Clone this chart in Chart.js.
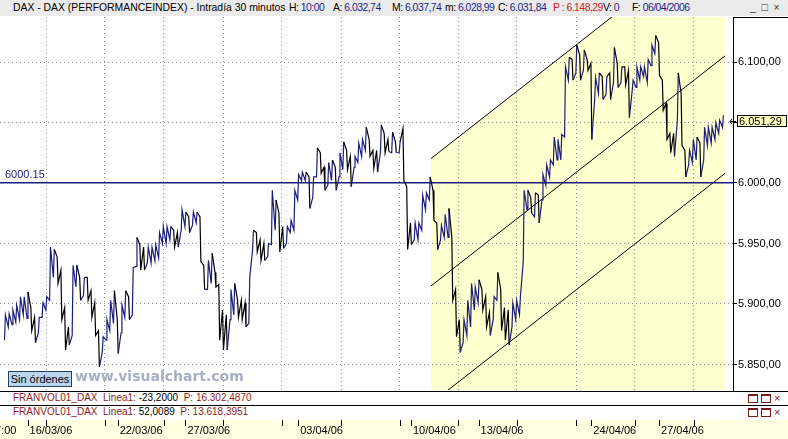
<!DOCTYPE html>
<html>
<head>
<meta charset="utf-8">
<title>DAX - Intradía 30 minutos</title>
<script src="https://cdn.jsdelivr.net/npm/chart.js@4.4.1/dist/chart.umd.min.js"></script>
<style>
  body { margin: 0; background: #fff; }
  #wrap { position: relative; width: 788px; height: 439px; overflow: hidden; font-family: "Liberation Sans", Arial, sans-serif; font-size: 11px; }
  #axisRow { position: absolute; left: 0; top: 420px; width: 788px; height: 19px; background: #ffffe1; }
  #dax { position: absolute; left: 0; top: 0; }
  #head { position: absolute; left: 0; top: 0; width: 788px; height: 16px; background: #ebebeb; white-space: nowrap; font-size: 10.4px; }
  #head span { position: absolute; top: 2px; }
  #head span span { position: static; }
  #head .n { letter-spacing: -0.5px; }
  .v { color: #1e1e8a; }
  .r { color: #d01c1c; }
  .panel { position: absolute; left: 0; width: 788px; height: 13px; background: #fff; border-top: 1px solid #000; white-space: nowrap; }
  .panel .txt { position: absolute; left: 13px; top: 0; color: #8e1b1b; font-size: 10px; }
  .panel .txt b { font-weight: normal; color: #000; }
  .btns { position: absolute; left: 748px; top: 0; color: #7a1a1a; font-size: 11px; }
  .btns i { display: inline-block; width: 8px; height: 6px; border: 1px solid #7a1a1a; border-top-width: 2px; margin-right: 3px; vertical-align: -1px; }
  #orders { position: absolute; left: 8px; top: 371px; width: 62px; height: 14px; border: 1px solid #23405e; background: #bcd5ee; line-height: 14px; text-align: center; }
  #mark { position: absolute; left: 75px; top: 368px; font: bold 14px "DejaVu Sans", Verdana, sans-serif; color: #a9aec4; }
</style>
</head>
<body>
<div id="wrap">
  <div id="axisRow"></div>
  <canvas id="dax" width="788" height="439"></canvas>
  <div id="head">
    <span style="left:13px">DAX - DAX (PERFORMANCEINDEX) - Intradía 30 minutos</span>
    <span class="n" style="left:289px">H: <span class="v">10:00</span></span>
    <span class="n" style="left:333px">A: <span class="v">6.032,74</span></span>
    <span class="n" style="left:392px">M: <span class="v">6.037,74</span></span>
    <span class="n" style="left:445px">m: <span class="v">6.028,99</span></span>
    <span class="n" style="left:498px">C: <span class="v">6.031,84</span></span>
    <span class="n r" style="left:553px">P : 6.148,29</span>
    <span class="n" style="left:603px">V: <span class="v">0</span></span>
    <span class="n" style="left:632px">F: <span class="v">06/04/2006</span></span>
    <span style="left:750px;color:#333">_&nbsp;&nbsp;□&nbsp;&nbsp;×</span>
  </div>
  <div id="orders">Sin órdenes</div>
  <div id="mark">www.visualchart.com</div>
  <div class="panel" style="top:391px">
    <span class="txt">FRANVOL01_DAX&nbsp; Linea1: <b>-23,2000</b>&nbsp; P: 16.302,4870</span>
    <span class="btns"><i></i><i></i>×</span>
  </div>
  <div class="panel" style="top:405px">
    <span class="txt">FRANVOL01_DAX&nbsp; Linea1: <b>52,0089</b>&nbsp; P: 13.618,3951</span>
    <span class="btns"><i></i><i></i>×</span>
  </div>
</div>
<script>
// 30 min bars grouped in columns, 6 columns per trading day (day 0 = 15/03/06)
var barsPerDay = 6;

var barHigh = [
  5891, 5892, 5895, 5899, 5906, 5906, 5910, 5897, 5889, 5889, 5901, 5906,
  5947, 5945, 5939, 5928, 5897, 5881, 5932, 5932, 5922, 5922, 5922, 5911,
  5901, 5878, 5873, 5887, 5903, 5911, 5887, 5899, 5911, 5906, 5930, 5955,
  5949, 5947, 5947, 5947, 5949, 5959, 5964, 5964, 5964, 5961, 5959, 5978,
  5976, 5972, 5976, 5976, 5972, 5932, 5936, 5942, 5926, 5916, 5895, 5891,
  5912, 5917, 5903, 5903, 5901, 5922, 5961, 5959, 5953, 5950, 5950, 5994,
  5986, 5975, 5964, 5964, 5969, 5994, 6007, 6009, 6009, 6005, 6005, 6029,
  6025, 6013, 6017, 6019, 6013, 6025, 6034, 6027, 6022, 6022, 6033, 6036,
  6046, 6036, 6027, 6027, 6048, 6041, 6036, 6042, 6034, 6034, 6045, 5997,
  5967, 5967, 5967, 5990, 5992, 6005, 5994, 5967, 5965, 5974, 5979, 5955,
  5912, 5887, 5887, 5903, 5917, 5914, 5920, 5912, 5906, 5893, 5906, 5926,
  5912, 5897, 5895, 5901, 5903, 5906, 5994, 5994, 5988, 5992, 5990, 6007,
  6015, 6019, 6038, 6036, 6040, 6096, 6104, 6102, 6114, 6106, 6110, 6102,
  6099, 6087, 6091, 6088, 6088, 6091, 6112, 6099, 6096, 6096, 6093, 6085,
  6096, 6096, 6096, 6102, 6114, 6122, 6116, 6085, 6066, 6041, 6041, 6091,
  6074, 6027, 6027, 6036, 6038, 6033, 6046, 6046, 6046, 6050, 6052, 6056
];

var barLow = [
  5870, 5881, 5883, 5885, 5887, 5891, 5888, 5878, 5868, 5876, 5889, 5895,
  5903, 5922, 5917, 5887, 5862, 5866, 5874, 5914, 5903, 5907, 5903, 5889,
  5874, 5848, 5860, 5870, 5878, 5884, 5859, 5876, 5889, 5887, 5891, 5931,
  5928, 5928, 5934, 5934, 5936, 5938, 5950, 5950, 5953, 5947, 5947, 5961,
  5964, 5959, 5965, 5967, 5935, 5912, 5912, 5917, 5914, 5870, 5862, 5862,
  5887, 5891, 5889, 5887, 5881, 5884, 5945, 5943, 5936, 5936, 5939, 5949,
  5961, 5943, 5946, 5950, 5959, 5961, 5986, 6002, 6002, 5979, 5988, 6005,
  6008, 5994, 5998, 6002, 5994, 6005, 6011, 6011, 5997, 6013, 6017, 6022,
  6027, 6022, 6012, 6009, 6025, 6025, 6026, 6025, 6025, 6025, 6002, 5945,
  5949, 5953, 5953, 5961, 5978, 5986, 5969, 5945, 5953, 5955, 5955, 5903,
  5873, 5860, 5868, 5874, 5881, 5895, 5901, 5895, 5881, 5874, 5887, 5903,
  5878, 5870, 5866, 5881, 5887, 5891, 5935, 5978, 5975, 5972, 5967, 5986,
  5998, 6005, 6015, 6019, 6019, 6038, 6085, 6085, 6091, 6085, 6093, 6093,
  6036, 6069, 6074, 6069, 6073, 6069, 6083, 6079, 6083, 6081, 6054, 6077,
  6079, 6085, 6088, 6083, 6097, 6107, 6089, 6060, 6036, 6025, 6022, 6052,
  6031, 6005, 6015, 6017, 6019, 6005, 6019, 6031, 6033, 6036, 6041, 6046
];

// reference level and last price
var levelPrice = 6000.15;
var lastPrice = 6051.29;

// regression channel (start / end, in trading days)
var chanDays = [18.89, 31.93];
var chanUpper = [6020.2, 6210.5];
var chanMiddle = [5914.9, 6105.1];
var chanLower = [5817.8, 6008.0];

// axes
var xMin = -0.22, xMax = 32.28;
var yMin = 5828.9, yMax = 6137.2;
var yTicks = [5850, 5900, 5950, 6000, 6050, 6100];
var gridDays = [1.82, 4.43, 7.05, 9.67, 12.28, 14.9, 17.5, 20.1, 22.7, 25.32, 27.93, 30.55];
var dateDays = [-0.8, 1, 5, 8, 13, 18, 21, 26, 29];
var dateLabels = ['17:00', '16/03/06', '22/03/06', '27/03/06', '03/04/06', '10/04/06', '13/04/06', '24/04/06', '27/04/06'];

var upColor = '#1c1c7c';
var downColor = '#000000';
var gridColor = '#8a8a8a';

function fmt(v) {
  var parts = v.toFixed(2).split('.');
  return parts[0].replace(/\B(?=(\d{3})+(?!\d))/g, '.') + ',' + parts[1];
}

// each column rises (low -> high) or falls (high -> low) compared with the previous one
var colUp = barHigh.map(function(h, i) {
  if (i === 0) return true;
  return (h + barLow[i]) >= (barHigh[i - 1] + barLow[i - 1]);
});

// zig-zag path through every column's range
var tracePoints = [];
barHigh.forEach(function(h, i) {
  var x0 = i / barsPerDay - 0.02, x1 = i / barsPerDay + 0.02;
  if (colUp[i]) {
    tracePoints.push({ x: x0, y: barLow[i] }, { x: x1, y: h });
  } else {
    tracePoints.push({ x: x0, y: h }, { x: x1, y: barLow[i] });
  }
});

// extra drawing: bottom tick marks, level label, last price box
var overlay = {
  id: 'overlay',
  afterDraw: function(chart) {
    var ctx = chart.ctx, x = chart.scales.x, y = chart.scales.y, area = chart.chartArea;
    ctx.save();
    ctx.strokeStyle = '#000';
    ctx.lineWidth = 1;
    gridDays.concat(dateDays).forEach(function(d) {
      var px = Math.round(x.getPixelForValue(d)) + 0.5;
      ctx.beginPath();
      ctx.moveTo(px, 420);
      ctx.lineTo(px, 426);
      ctx.stroke();
    });

    // axis panel top edge
    ctx.beginPath();
    ctx.moveTo(area.right, area.top + 0.5);
    ctx.lineTo(chart.width, area.top + 0.5);
    ctx.stroke();

    ctx.font = '11px "Liberation Sans", Arial, sans-serif';
    ctx.fillStyle = upColor;
    ctx.textBaseline = 'alphabetic';
    ctx.textAlign = 'left';
    ctx.fillText(String(levelPrice), area.left + 5, y.getPixelForValue(levelPrice) - 5);

    var py = Math.round(y.getPixelForValue(lastPrice));
    ctx.fillStyle = '#ffffc4';
    ctx.fillRect(area.right + 4, py - 6, 50, 12);
    ctx.strokeRect(area.right + 4.5, py - 5.5, 49, 11);
    ctx.fillStyle = '#000';
    ctx.textBaseline = 'middle';
    ctx.fillText(fmt(lastPrice), area.right + 6, py + 1);
    ctx.beginPath();
    ctx.moveTo(area.right + 3, py + 0.5);
    ctx.lineTo(area.right - 3, py + 0.5);
    ctx.moveTo(area.right - 1, py - 2);
    ctx.lineTo(area.right - 3, py + 0.5);
    ctx.lineTo(area.right - 1, py + 3);
    ctx.stroke();
    ctx.restore();
  }
};

Chart.defaults.font.family = '"Liberation Sans", Arial, sans-serif';
Chart.defaults.font.size = 11;
Chart.defaults.color = '#000';

new Chart(document.getElementById('dax'), {
  type: 'line',
  data: {
    datasets: [{
      data: tracePoints,
      borderColor: upColor,
      borderWidth: 1.2,
      pointRadius: 0,
      tension: 0,
      segment: {
        borderColor: function(c) { return colUp[Math.floor(c.p1DataIndex / 2)] ? upColor : downColor; }
      },
      order: 0
    }, {
      data: [{ x: xMin, y: levelPrice }, { x: xMax, y: levelPrice }],
      borderColor: '#1c1c7c',
      borderWidth: 1.5,
      pointRadius: 0,
      order: 1
    }, {
      data: [{ x: chanDays[0], y: chanUpper[0] }, { x: chanDays[1], y: chanUpper[1] }],
      borderColor: '#000',
      borderWidth: 1,
      pointRadius: 0,
      fill: 'start',
      backgroundColor: '#ffffd0',
      order: 2
    }, {
      data: [{ x: chanDays[0], y: chanMiddle[0] }, { x: chanDays[1], y: chanMiddle[1] }],
      borderColor: '#000',
      borderWidth: 1,
      pointRadius: 0,
      order: 2
    }, {
      data: [{ x: chanDays[0], y: chanLower[0] }, { x: chanDays[1], y: chanLower[1] }],
      borderColor: '#000',
      borderWidth: 1,
      pointRadius: 0,
      order: 2
    }]
  },
  options: {
    responsive: false,
    animation: false,
    devicePixelRatio: 1,
    events: [],
    layout: { padding: { top: 17, left: 0, right: 0, bottom: 0 } },
    plugins: {
      legend: { display: false },
      tooltip: { enabled: false },
      filler: { drawTime: 'beforeDraw' }
    },
    scales: {
      x: {
        type: 'linear',
        min: xMin,
        max: xMax,
        offset: false,
        afterFit: function(s) { s.height = 49; },
        afterBuildTicks: function(s) {
          s.ticks = gridDays.concat(dateDays).map(function(v) { return { value: v }; });
        },
        grid: {
          color: function(c) { return c.tick && gridDays.indexOf(c.tick.value) >= 0 ? gridColor : 'rgba(0,0,0,0)'; },
          drawTicks: false
        },
        border: { display: false, dash: [1, 3] },
        ticks: {
          autoSkip: false,
          maxRotation: 0,
          minRotation: 0,
          align: 'start',
          labelOffset: 2,
          padding: 34,
          color: '#000',
          callback: function(v) {
            var i = dateDays.indexOf(v);
            return i >= 0 ? dateLabels[i] : '';
          }
        }
      },
      y: {
        position: 'right',
        min: yMin,
        max: yMax,
        afterFit: function(s) { s.width = 55; },
        afterBuildTicks: function(s) {
          s.ticks = yTicks.map(function(v) { return { value: v }; });
        },
        grid: { color: gridColor, tickColor: '#000', tickLength: 4 },
        border: { display: true, color: '#000', width: 1, dash: [1, 3] },
        ticks: { padding: 1, color: '#000', callback: function(v) { return fmt(v); } }
      }
    }
  },
  plugins: [overlay]
});
</script>
</body>
</html>
